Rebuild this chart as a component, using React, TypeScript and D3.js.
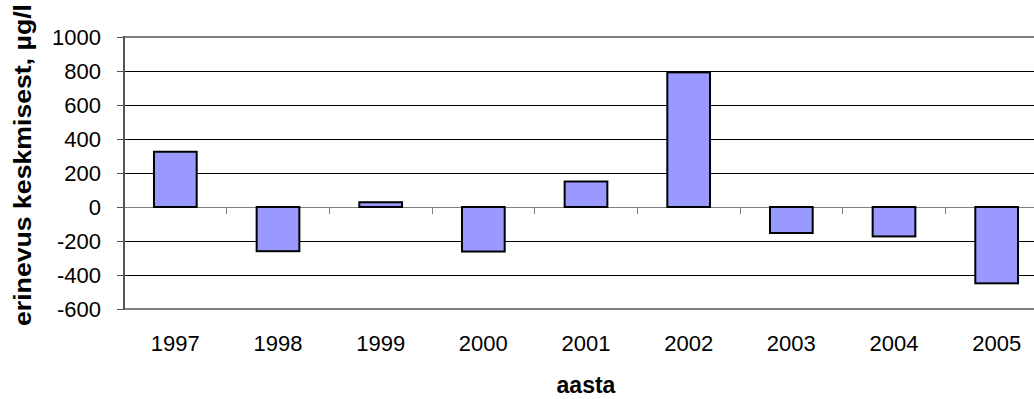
import React from "react";
import * as d3 from "d3";

// Yearly deviation from the long-term mean (µg/l)
const years = ["1997", "1998", "1999", "2000", "2001", "2002", "2003", "2004", "2005"];
const deviations = [325, -260, 28, -262, 150, 792, -153, -173, -449];
const yTicks = [1000, 800, 600, 400, 200, 0, -200, -400, -600];

const W = 1034;
const H = 399;
const plot = { left: 124, top: 37, right: 1048, bottom: 309 };
const font = "Arial, 'Liberation Sans', Helvetica, sans-serif";

export default function App() {
  const x = d3.scaleBand<string>().domain(years).range([plot.left, plot.right]).paddingInner(0).paddingOuter(0);
  const y = d3.scaleLinear().domain([-600, 1000]).range([plot.bottom, plot.top]);
  const bw = x.bandwidth();
  const barW = bw * 0.416;
  const y0 = y(0);

  return (
    <svg width={W} height={H} style={{ position: "absolute", left: 0, top: 0, background: "#fff" }}>
      {/* horizontal gridlines */}
      {yTicks.filter((t) => t !== 0 && t !== 1000 && t !== -600).map((t) => (
        <line key={"g" + t} x1={plot.left} x2={plot.right} y1={y(t) + 0.5} y2={y(t) + 0.5} stroke="#000" strokeWidth={1} shapeRendering="crispEdges" />
      ))}
      {/* plot frame */}
      <line x1={plot.left} x2={plot.right} y1={plot.top} y2={plot.top} stroke="#808080" strokeWidth={2} />
      <line x1={plot.left} x2={plot.right} y1={plot.bottom} y2={plot.bottom} stroke="#808080" strokeWidth={2} />
      {/* zero line and category ticks */}
      <line x1={plot.left} x2={plot.right} y1={y0 + 0.5} y2={y0 + 0.5} stroke="#808080" strokeWidth={1} shapeRendering="crispEdges" />
      {years.map((yr) => (
        <line key={"t" + yr} x1={x(yr) as number} x2={x(yr) as number} y1={y0} y2={y0 + 7} stroke="#808080" strokeWidth={1} shapeRendering="crispEdges" />
      ))}
      {/* bars */}
      {years.map((yr, i) => {
        const v = deviations[i];
        const cx = (x(yr) as number) + bw / 2;
        return (
          <rect
            key={"b" + yr}
            x={cx - barW / 2}
            y={Math.min(y(v), y0)}
            width={barW}
            height={Math.abs(y(v) - y0)}
            fill="#9999FF"
            stroke="#000"
            strokeWidth={2}
          />
        );
      })}
      {/* value axis */}
      <line x1={plot.left} x2={plot.left} y1={plot.top - 1} y2={plot.bottom + 1} stroke="#555" strokeWidth={2} />
      {yTicks.map((t) => (
        <g key={"y" + t}>
          <line x1={plot.left - 7} x2={plot.left} y1={y(t) + 0.5} y2={y(t) + 0.5} stroke="#555" strokeWidth={1} shapeRendering="crispEdges" />
          <text x={101} y={y(t)} dy="0.35em" textAnchor="end" fontFamily={font} fontSize={22} fill="#000">
            {t}
          </text>
        </g>
      ))}
      {/* category labels */}
      {years.map((yr) => (
        <text key={"l" + yr} x={(x(yr) as number) + bw / 2} y={343} dy="0.35em" textAnchor="middle" fontFamily={font} fontSize={22} fill="#000">
          {yr}
        </text>
      ))}
      {/* axis titles */}
      <text x={586} y={385} dy="0.35em" textAnchor="middle" fontFamily={font} fontSize={23} fontWeight="bold" fill="#000">
        aasta
      </text>
      <text
        transform={`translate(31,165) rotate(-90)`}
        textAnchor="middle"
        fontFamily={font}
        fontSize={24}
        fontWeight="bold"
        fill="#000"
        textLength={322}
        lengthAdjust="spacingAndGlyphs"
      >
        erinevus keskmisest, µg/l
      </text>
    </svg>
  );
}
